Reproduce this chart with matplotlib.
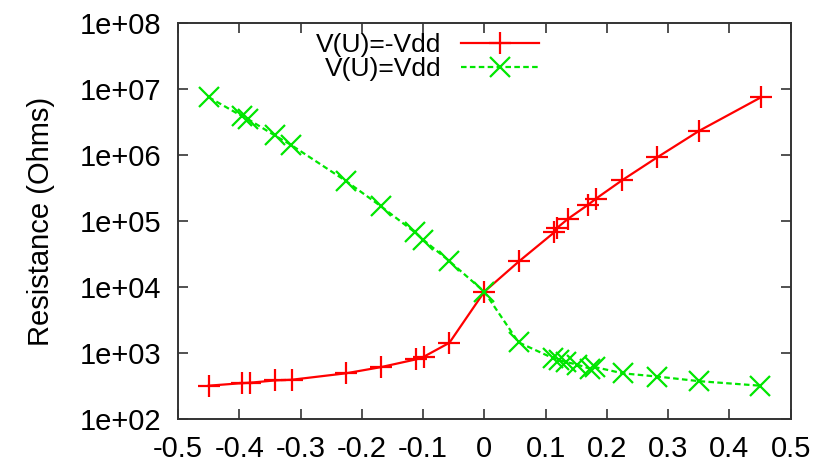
import matplotlib
matplotlib.use('Agg')
import matplotlib.pyplot as plt
import matplotlib.ticker as mticker

plt.rcParams['font.family'] = ['Liberation Sans', 'DejaVu Sans']

# V(U) = -Vdd
red_x = [-0.45, -0.395, -0.383, -0.342, -0.314, -0.226, -0.169, -0.111, -0.099, -0.057,
         0.0, 0.057, 0.114, 0.119, 0.137, 0.170, 0.182, 0.225, 0.282, 0.351, 0.452]
red_y = [325, 355, 360, 390, 400, 500, 620, 815, 890, 1450,
         8600, 25000, 68000, 80000, 110000, 180000, 220000, 420000, 930000, 2360000, 7600000]

# V(U) = Vdd
green_x = [-0.45, -0.395, -0.385, -0.342, -0.316, -0.226, -0.169, -0.113, -0.100, -0.057,
           0.0, 0.056, 0.112, 0.122, 0.134, 0.151, 0.172, 0.181, 0.226, 0.282, 0.351, 0.450]
green_y = [7.6e6, 3.9e6, 3.5e6, 2.0e6, 1.45e6, 4.1e5, 1.7e5, 6.8e4, 5.3e4, 2.5e4,
           8.6e3, 1470, 850, 790, 740, 680, 590, 620, 500, 447, 380, 325]

x_ticks = [-0.5, -0.4, -0.3, -0.2, -0.1, 0, 0.1, 0.2, 0.3, 0.4, 0.5]
x_labels = ['-0.5', '-0.4', '-0.3', '-0.2', '-0.1', '0', '0.1', '0.2', '0.3', '0.4', '0.5']
y_ticks = [1e2, 1e3, 1e4, 1e5, 1e6, 1e7, 1e8]
y_labels = ['1e+02', '1e+03', '1e+04', '1e+05', '1e+06', '1e+07', '1e+08']

fig = plt.figure(figsize=(8.29, 4.63), dpi=100)
ax = fig.add_axes([0.2147, 0.094, 0.739, 0.8557])

ax.plot(red_x, red_y, color='#ff0000', lw=1.6, marker='+', ms=16, mew=1.6,
        label='V(U)=-Vdd')
ax.plot(green_x, green_y, color='#00e600', lw=1.6, ls=(0, (2.5, 1.5)), marker='x',
        ms=15, mew=1.6, label='V(U)=Vdd')

ax.set_yscale('log')
ax.set_xlim(-0.5, 0.5)
ax.set_ylim(1e2, 1e8)
ax.set_xticks(x_ticks)
ax.set_xticklabels(x_labels)
ax.set_yticks(y_ticks)
ax.set_yticklabels(y_labels)
ax.yaxis.set_minor_locator(mticker.LogLocator(base=10, subs=(2, 5, 8)))
ax.yaxis.set_minor_formatter(mticker.NullFormatter())

ax.tick_params(which='both', direction='in', top=True, right=True, labelsize=21,
               color='#333333', width=1.2)
ax.tick_params(which='major', length=7)
ax.tick_params(which='minor', length=4)
ax.tick_params(axis='y', which='major', pad=12)
ax.tick_params(axis='x', which='major', pad=11)
for s in ax.spines.values():
    s.set_color('#333333')
    s.set_linewidth(1.4)

ax.set_ylabel('Resistance (Ohms)', fontsize=21, labelpad=18)

leg = ax.legend(loc='upper right', bbox_to_anchor=(0.615, 1.015), frameon=False,
                fontsize=19, markerfirst=False, handlelength=2.95, handletextpad=0.75,
                labelspacing=0.0, borderaxespad=0.2)
for t in leg.get_texts():
    t.set_ha('right')

fig.savefig('out.png', dpi=100)
